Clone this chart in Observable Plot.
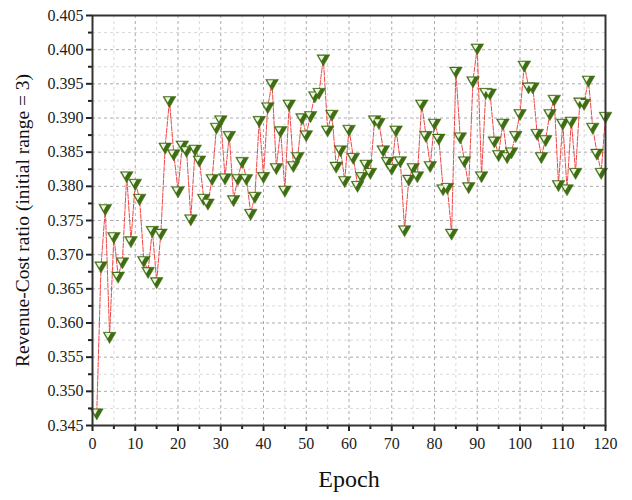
<!DOCTYPE html>
<html><head><meta charset="utf-8">
<script src="https://cdn.jsdelivr.net/npm/d3@7"></script>
<script src="https://cdn.jsdelivr.net/npm/@observablehq/plot@0.6"></script>
<style>body{margin:0;background:#fff}</style>
</head><body><div id="chart"></div>
<script>
const ratio = [
  0.3469, 0.3684, 0.3768, 0.3581, 0.3727, 0.3669, 0.3690, 0.3816, 0.3721, 0.3805,
  0.3783, 0.3692, 0.3676, 0.3736, 0.3661, 0.3732, 0.3858, 0.3926, 0.3848, 0.3794,
  0.3861, 0.3853, 0.3753, 0.3855, 0.3839, 0.3783, 0.3776, 0.3812, 0.3887, 0.3898,
  0.3813, 0.3875, 0.3781, 0.3812, 0.3837, 0.3812, 0.3761, 0.3786, 0.3897, 0.3815,
  0.3917, 0.3951, 0.3828, 0.3882, 0.3795, 0.3921, 0.3831, 0.3844, 0.3901, 0.3876,
  0.3904, 0.3933, 0.3938, 0.3987, 0.3883, 0.3906, 0.3830, 0.3854, 0.3809, 0.3884,
  0.3843, 0.3802, 0.3815, 0.3833, 0.3821, 0.3898, 0.3894, 0.3854, 0.3837, 0.3827,
  0.3883, 0.3838, 0.3737, 0.3811, 0.3828, 0.3816, 0.3921, 0.3875, 0.3831, 0.3893,
  0.3871, 0.3797, 0.3799, 0.3732, 0.3969, 0.3873, 0.3838, 0.3800, 0.3955, 0.4003,
  0.3816, 0.3938, 0.3937, 0.3867, 0.3847, 0.3893, 0.3844, 0.3851, 0.3875, 0.3907,
  0.3978, 0.3946, 0.3946, 0.3878, 0.3844, 0.3869, 0.3907, 0.3928, 0.3803, 0.3893,
  0.3797, 0.3896, 0.3821, 0.3924, 0.3922, 0.3956, 0.3887, 0.3849, 0.3821, 0.3903
];
const xMajorTicks = [0, 10, 20, 30, 40, 50, 60, 70, 80, 90, 100, 110, 120];
const xMinorTicks = [5, 15, 25, 35, 45, 55, 65, 75, 85, 95, 105, 115];
const yMajorTicks = [0.345, 0.350, 0.355, 0.360, 0.365, 0.370, 0.375, 0.380, 0.385, 0.390, 0.395, 0.400, 0.405];
const yMinorTicks = [0.3475, 0.3525, 0.3575, 0.3625, 0.3675, 0.3725, 0.3775, 0.3825, 0.3875, 0.3925, 0.3975, 0.4025];
const xLabel = "Epoch";
const yLabel = "Revenue-Cost ratio (initial range = 3)";

const data = ratio.map((v, i) => ({epoch: i + 1, ratio: v}));

const chart = Plot.plot({
  width: 632, height: 500,
  marginLeft: 92, marginRight: 27, marginTop: 15, marginBottom: 75,
  style: {fontFamily: "'Liberation Serif', 'Times New Roman', serif", fontSize: "16px", color: "#222", background: "white"},
  x: {domain: [0, 120]},
  y: {domain: [0.345, 0.405]},
  marks: [
    Plot.ruleY(yMinorTicks, {stroke: "#dadada", strokeDasharray: "3,3"}),
    Plot.ruleY(yMajorTicks, {stroke: "#ababab", strokeDasharray: "3,3"}),
    Plot.ruleX(xMinorTicks, {stroke: "#dadada", strokeDasharray: "3,3"}),
    Plot.ruleX(xMajorTicks, {stroke: "#ababab", strokeDasharray: "3,3"}),
    Plot.line(data, {x: "epoch", y: "ratio", stroke: "#f04848", strokeWidth: 1, strokeDasharray: "5,1.5"}),
    Plot.dot(data, {x: "epoch", y: "ratio", symbol: "triangle", rotate: 180, r: 4.8, fill: "#3f6e12", stroke: "#3f6e12", strokeWidth: 0.5}),
    Plot.dot(data, {x: "epoch", y: "ratio", symbol: "triangle", rotate: 180, r: 2.2, fill: "#eef4e4", dx: -1.8, dy: -1.2}),
    Plot.axisY(yMajorTicks, {tickFormat: d => d.toFixed(3), tickSize: 6, tickPadding: 3, strokeWidth: 2, label: null, fontSize: 16}),
    Plot.axisY(yMinorTicks, {tickFormat: () => "", tickSize: 4, strokeWidth: 2, label: null}),
    Plot.axisX(xMajorTicks, {tickSize: 6, tickPadding: 6, strokeWidth: 2, label: null, fontSize: 16}),
    Plot.axisX(xMinorTicks, {tickFormat: () => "", tickSize: 4, strokeWidth: 2, label: null}),
    Plot.frame({stroke: "#333", strokeWidth: 2}),
    Plot.text([xLabel], {frameAnchor: "bottom", dy: 61, fontSize: 24, fill: "#111"}),
    Plot.text([yLabel], {frameAnchor: "left", textAnchor: "middle", dx: -70, rotate: -90, fontSize: 19.5, fill: "#111"})
  ]
});
document.getElementById("chart").appendChild(chart);
</script>
</body></html>
